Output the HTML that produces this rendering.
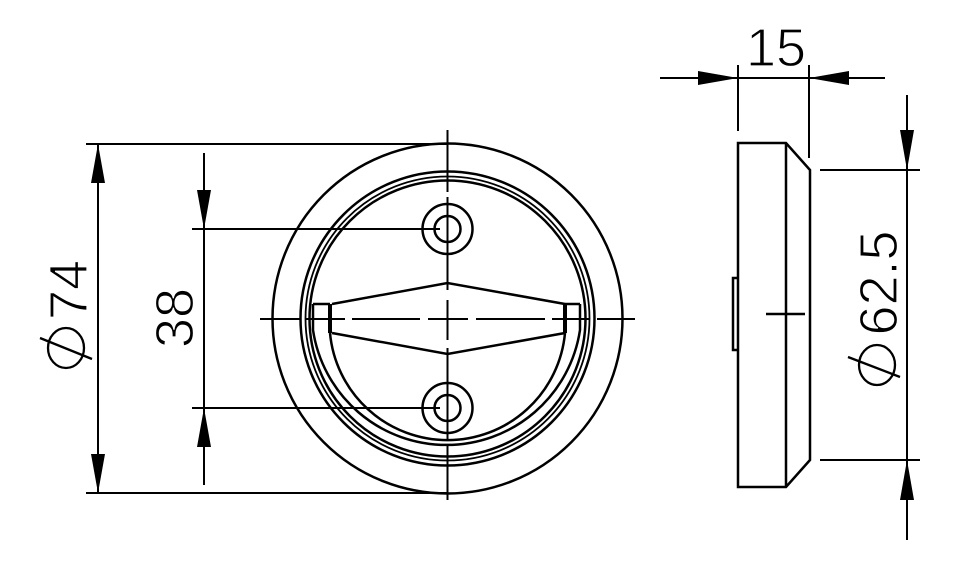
<!DOCTYPE html>
<html><head><style>html,body{margin:0;padding:0;background:#fff}svg{display:block}</style></head>
<body>
<svg width="960" height="573" viewBox="0 0 960 573" xmlns="http://www.w3.org/2000/svg">
<g fill="none" stroke="#000" stroke-width="2.5">
<circle cx="447.5" cy="318.5" r="175"/>
<circle cx="447.5" cy="318.5" r="147"/>
<circle cx="447.5" cy="318.5" r="142" stroke-width="1.8"/>
<circle cx="447.5" cy="318.5" r="138"/>
<circle cx="447.5" cy="229" r="25"/>
<circle cx="447.5" cy="229" r="13"/>
<circle cx="447.5" cy="408" r="25"/>
<circle cx="447.5" cy="408" r="13"/>
<path d="M313,304 H330 M565,304 H580 M313,304 V330 A135,135 0 0 0 580,330 V304"/>
<path d="M330,333 A118,118 0 0 0 565,333"/>
<path d="M332,304 L447.5,283 L565,304 M332,333 L447.5,354 L565,333"/>
<path d="M330,304 V333 M565,304 V333" stroke-width="4"/>
</g>
<g stroke="#000" stroke-width="2" fill="none">
<path d="M260,319 H300 M306,319 H345 M352,319 H420 M428,319 H468 M476,319 H545 M552,319 H590 M597,319 H635"/>
<path d="M447.5,130 V192 M447.5,197 V290 M447.5,300 V340 M447.5,348 V440 M447.5,446 V500"/>
<path d="M86,144 H447 M86,493 H447 M192,229 H440 M192,408 H440"/>
<path d="M98,144 V493 M204,153 V485"/>
<path d="M738,487 V143 H786 L810,170 V460 L786,487 Z M786,143 V487 M738,278 H733 V350 H738 M766,314 H805" stroke-width="2.5"/>
<path d="M660,78 H885 M738,65 V131 M809,65 V158"/>
<path d="M907,95 V540 M820,170 H920 M820,460 H920"/>
</g>
<g fill="#000">
<path d="M98,144 L91,183 H105 Z M98,493 L91,454 H105 Z"/>
<path d="M204,229 L197,190 H211 Z M204,408 L197,447 H211 Z"/>
<path d="M738,78 L698,71 V85 Z M809,78 L849,71 V85 Z"/>
<path d="M907,170 L900,130 H914 Z M907,460 L900,500 H914 Z"/>
</g>
<g font-family="Liberation Sans, sans-serif" font-size="54" fill="#000" stroke="#fff" stroke-width="1.2">
<text x="776" y="66" text-anchor="middle">15</text>
<text transform="translate(87,290) rotate(-90)" text-anchor="middle">74</text>
<text transform="translate(193,318) rotate(-90)" text-anchor="middle">38</text>
<text transform="translate(897,283) rotate(-90)" text-anchor="middle">62.5</text>
</g>
<g fill="none" stroke="#000" stroke-width="2.3">
<ellipse cx="66" cy="348" rx="18" ry="20"/>
<path d="M40,338 L92,359"/>
<ellipse cx="877" cy="365" rx="18" ry="20"/>
<path d="M848,357 L900,377"/>
</g>
</svg>
</body></html>
